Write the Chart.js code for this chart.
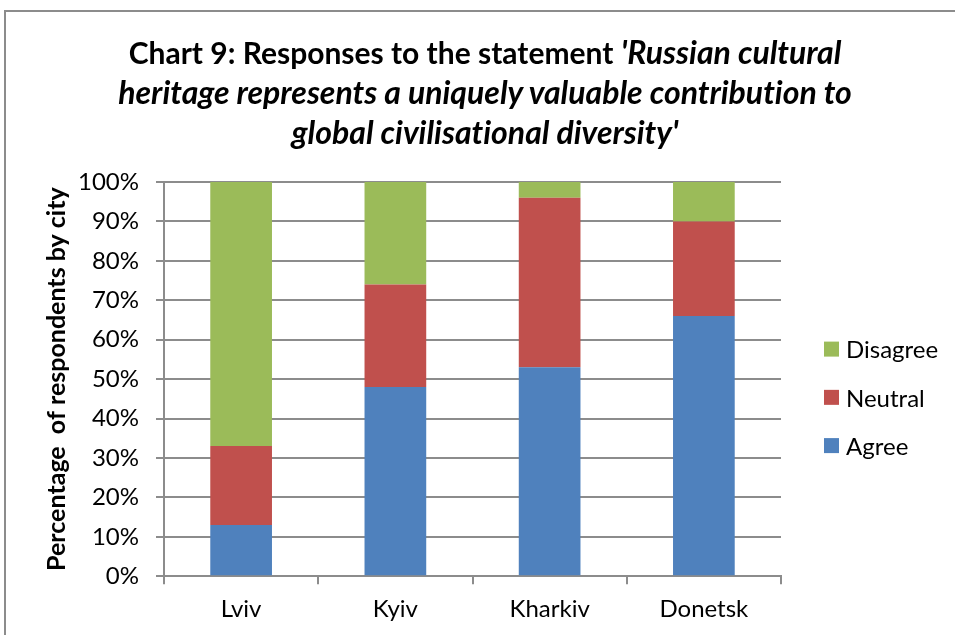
<!DOCTYPE html>
<html>
<head>
<meta charset="utf-8">
<script src="https://cdn.jsdelivr.net/npm/chart.js@4.4.1/dist/chart.umd.min.js"></script>
<style>
  html, body { margin: 0; padding: 0; background: #fff; }
  body { width: 955px; height: 635px; position: relative; overflow: hidden; }
  #frame { position: absolute; left: 4px; top: 10px; width: 1000px; height: 700px; border: 2px solid #8c8c8c; box-sizing: border-box; }
  #title { position: absolute; left: 15px; width: 940px; top: 32px; text-align: center; font-family: Lato, sans-serif; font-weight: bold; font-size: 30px; line-height: 40px; color: #000; font-variant-ligatures: none; }
  #title i { font-style: italic; font-size: 32px; }
  #wrap { position: absolute; left: 0; top: 0; width: 955px; height: 635px; }
</style>
</head>
<body>
<div id="frame"></div>
<div id="wrap"><canvas id="sleepChart"></canvas></div>
<div id="title">Chart 9: Responses to the statement <i>'Russian cultural<br>heritage represents a uniquely valuable contribution to<br>global civilisational diversity'</i></div>
<script>
const cities = ['Lviv', 'Kyiv', 'Kharkiv', 'Donetsk'];
const agree = [13, 48, 53, 66];
const neutral = [20, 26, 43, 24];
const disagree = [67, 26, 4, 10];
const seriesNames = ['Agree', 'Neutral', 'Disagree'];
const seriesColors = ['#4F81BD', '#C0504D', '#9BBB59'];

const gridColor = '#8c8c8c';
const font = 'Lato';

// legend on the right, drawn in reverse order like the Excel original
const sideLegend = {
    id: 'sideLegend',
    afterDraw(chart) {
        const c = chart.ctx;
        const area = chart.chartArea;
        const x = area.right + 43;
        const spacing = 48.25;
        const y0 = (area.top + area.bottom) / 2 - 30;
        const order = chart.data.datasets.map((d, i) => i).reverse();
        c.save();
        c.font = '24px ' + font;
        c.textBaseline = 'middle';
        c.textAlign = 'left';
        order.forEach((di, k) => {
            const ds = chart.data.datasets[di];
            const y = y0 + k * spacing;
            c.fillStyle = ds.backgroundColor;
            c.fillRect(x, y - 7.5, 15, 15);
            c.fillStyle = '#000';
            c.fillText(ds.label, x + 22, y + 1.5);
        });
        c.restore();
    }
};

const ctx = document.getElementById('sleepChart');

new Chart(ctx, {
    type: 'bar',
    data: {
        labels: cities,
        datasets: [agree, neutral, disagree].map((values, i) => ({
            label: seriesNames[i],
            data: values,
            backgroundColor: seriesColors[i],
            borderWidth: 0,
            categoryPercentage: 1,
            barPercentage: 0.4,
        })),
    },
    options: {
        responsive: true,
        maintainAspectRatio: false,
        animation: false,
        layout: {
            padding: { top: 182, left: 0, right: 174, bottom: 0 }
        },
        scales: {
            x: {
                stacked: true,
                offset: true,
                grid: {
                    display: true,
                    offset: true,
                    drawOnChartArea: false,
                    drawTicks: true,
                    tickLength: 8,
                    color: gridColor,
                    lineWidth: 2,
                },
                border: { display: true, color: gridColor, width: 2 },
                ticks: {
                    color: '#000',
                    padding: 11,
                    font: { family: font, size: 24 },
                }
            },
            y: {
                stacked: true,
                min: 0,
                max: 100,
                grid: {
                    color: gridColor,
                    lineWidth: 2,
                    drawTicks: true,
                    tickLength: 8,
                },
                border: { display: true, color: gridColor, width: 2 },
                ticks: {
                    stepSize: 10,
                    color: '#000',
                    padding: 17,
                    font: { family: font, size: 24 },
                    callback: (value) => value + '%',
                },
                title: {
                    display: true,
                    text: 'Percentage  of respondents by city',
                    color: '#000',
                    padding: { top: 42, bottom: 0 },
                    font: { family: font, size: 25, weight: 'bold' },
                },
                afterFit: (scale) => { scale.width = 164; }
            }
        },
        plugins: {
            title: { display: false },
            tooltip: { enabled: false },
            legend: { display: false }
        }
    },
    plugins: [sideLegend]
});
</script>
</body>
</html>
